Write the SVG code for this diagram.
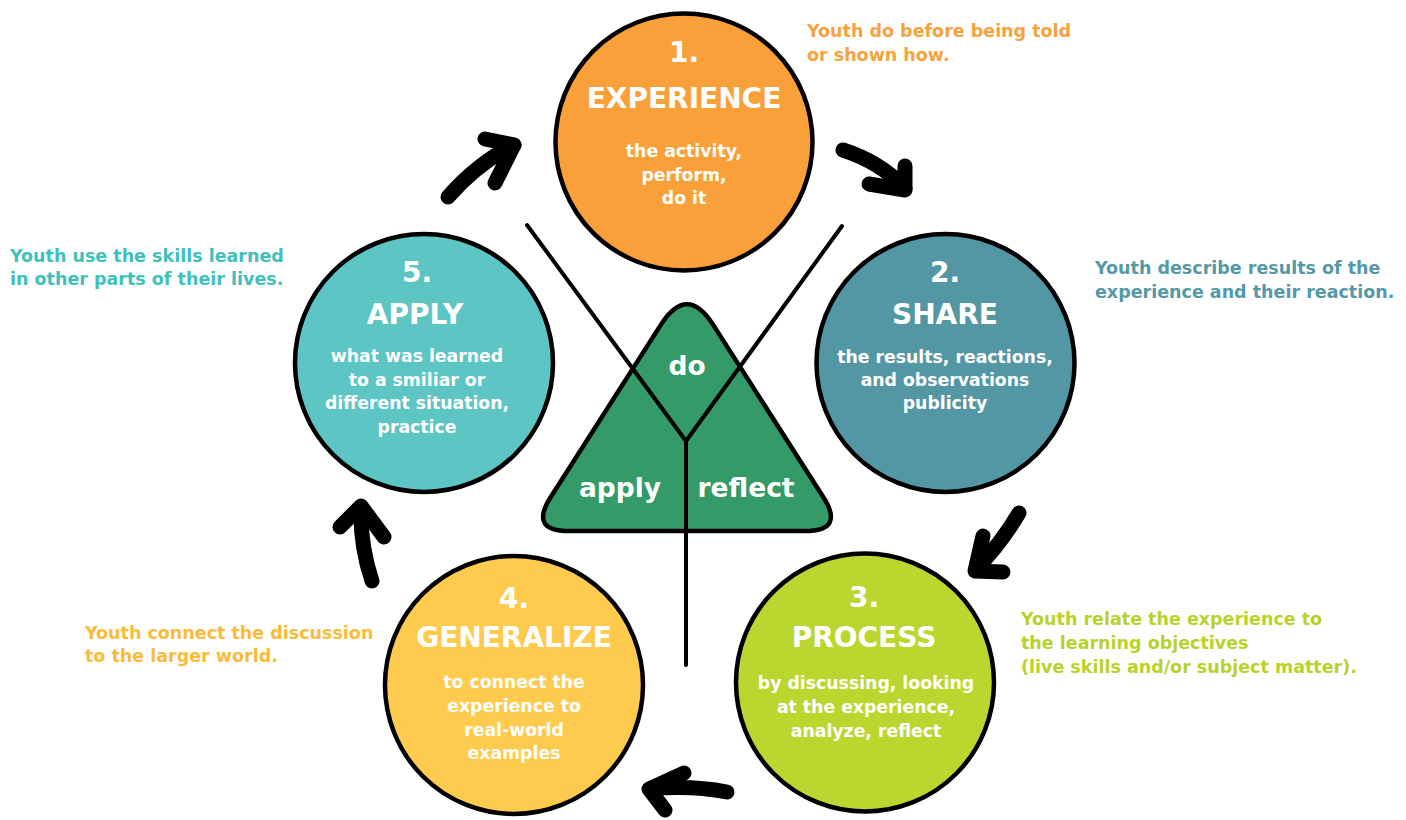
<svg xmlns="http://www.w3.org/2000/svg" width="1406" height="820" viewBox="0 0 1406 820">
<style>
.circ{stroke:#000;stroke-width:4.5}
.num,.ttl{font-family:"DejaVu Sans","Liberation Sans",sans-serif;font-weight:700;font-size:28px;fill:#fff;text-anchor:middle}
.body{font-family:"DejaVu Sans","Liberation Sans",sans-serif;font-weight:700;font-size:17.3px;fill:#fff;text-anchor:middle}
.note{font-family:"DejaVu Sans","Liberation Sans",sans-serif;font-weight:700;font-size:17.5px}
.tri{font-family:"DejaVu Sans","Liberation Sans",sans-serif;font-weight:700;font-size:26.5px;fill:#fff;text-anchor:middle}
.arr{fill:none;stroke:#000;stroke-width:15;stroke-linecap:round;stroke-linejoin:round}
.ln{fill:none;stroke:#000;stroke-width:4;stroke-linecap:round}
</style>
<rect width="1406" height="820" fill="#fff"/>

<g id="center-triangle">
<path d="M661.1 324.4 Q687 284 712.9 324.4 L823.4 497.3 Q845 531 805 531 L569 531 Q529 531 550.6 497.3 Z" fill="#349A67" stroke="#000" stroke-width="4.5" stroke-linejoin="round"/>
</g>

<g id="connectors">
<path class="ln" d="M527 225 L686 441 L842 226"/>
<path class="ln" d="M686 441 L686 665"/>
<path class="arr" d="M448 197 Q478 163 514 145"/>
<path class="arr" d="M485 139 L514 145 L495 183"/>
<path class="arr" d="M843 150 Q880 162 905 188"/>
<path class="arr" d="M869 184 L905 190 L905 166"/>
<path class="arr" d="M1019 513 Q1000 545 976 569"/>
<path class="arr" d="M983 536 L975 571 L1003 572"/>
<path class="arr" d="M727 792 Q690 785 650 789"/>
<path class="arr" d="M684 773 L649 789 L665 810"/>
<path class="arr" d="M372 581 Q360 545 361 508"/>
<path class="arr" d="M340 527 L361 506 L384 537"/>
</g>

<g id="triangle-labels">
<text class="tri" x="687" y="375">do</text>
<text class="tri" x="620" y="497">apply</text>
<text class="tri" x="746" y="497">reflect</text>
</g>

<g id="node-experience">
<circle class="circ" cx="684" cy="142" r="128.5" fill="#F9A03B"/>
<text class="num" x="684" y="62">1.</text>
<text class="ttl" x="684" y="108">EXPERIENCE</text>
<text class="body" x="684" y="157">the activity,</text>
<text class="body" x="684" y="181">perform,</text>
<text class="body" x="684" y="204">do it</text>
</g>

<g id="node-share">
<circle class="circ" cx="945.5" cy="363" r="129" fill="#5497A4"/>
<text class="num" x="945" y="282">2.</text>
<text class="ttl" x="945" y="324">SHARE</text>
<text class="body" x="945" y="363">the results, reactions,</text>
<text class="body" x="945" y="386">and observations</text>
<text class="body" x="945" y="409">publicity</text>
</g>

<g id="node-process">
<circle class="circ" cx="865" cy="682.5" r="129" fill="#BCD630"/>
<text class="num" x="864" y="607">3.</text>
<text class="ttl" x="864" y="647">PROCESS</text>
<text class="body" x="866" y="689">by discussing, looking</text>
<text class="body" x="866" y="713">at the experience,</text>
<text class="body" x="866" y="737">analyze, reflect</text>
</g>

<g id="node-generalize">
<circle class="circ" cx="514" cy="685" r="129" fill="#FECB4F"/>
<text class="num" x="514" y="608">4.</text>
<text class="ttl" x="514" y="647">GENERALIZE</text>
<text class="body" x="514" y="688">to connect the</text>
<text class="body" x="514" y="712">experience to</text>
<text class="body" x="514" y="736">real-world</text>
<text class="body" x="514" y="759">examples</text>
</g>

<g id="node-apply">
<circle class="circ" cx="424" cy="363" r="129" fill="#5DC5C4"/>
<text class="num" x="417" y="282">5.</text>
<text class="ttl" x="415" y="324">APPLY</text>
<text class="body" x="417" y="362">what was learned</text>
<text class="body" x="417" y="386">to a smiliar or</text>
<text class="body" x="417" y="409">different situation,</text>
<text class="body" x="417" y="433">practice</text>
</g>

<g id="notes">
<text class="note" fill="#F7A23E"><tspan x="807" y="37">Youth do before being told</tspan><tspan x="807" y="61">or shown how.</tspan></text>
<text class="note" fill="#5499A6"><tspan x="1095" y="274">Youth describe results of the</tspan><tspan x="1095" y="298">experience and their reaction.</tspan></text>
<text class="note" fill="#B7D22B"><tspan x="1021" y="625">Youth relate the experience to</tspan><tspan x="1021" y="649">the learning objectives</tspan><tspan x="1021" y="673">(live skills and/or subject matter).</tspan></text>
<text class="note" fill="#FBBB3A"><tspan x="85" y="639">Youth connect the discussion</tspan><tspan x="85" y="662">to the larger world.</tspan></text>
<text class="note" fill="#3FC0BC"><tspan x="10" y="262">Youth use the skills learned</tspan><tspan x="10" y="285">in other parts of their lives.</tspan></text>
</g>
</svg>
